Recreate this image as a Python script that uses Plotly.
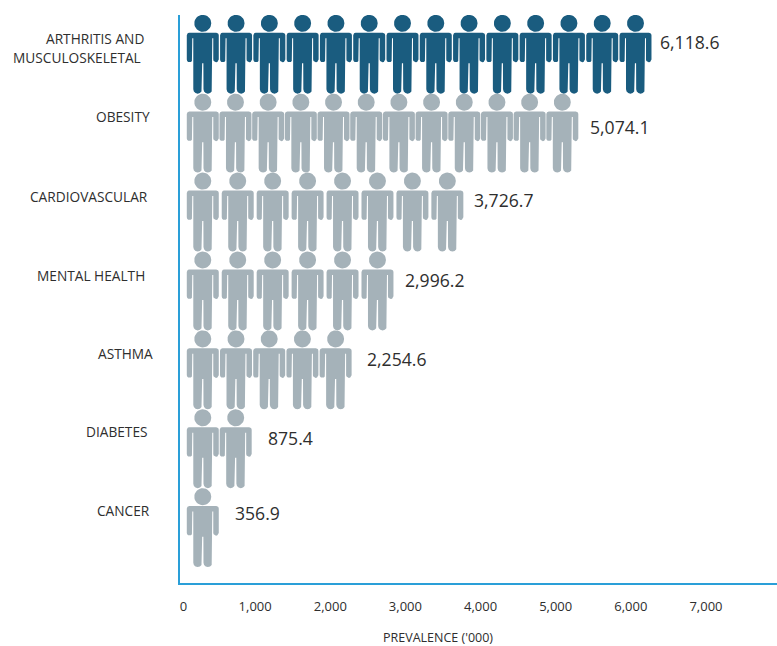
import math
import plotly.graph_objects as go

categories = ["ARTHRITIS AND MUSCULOSKELETAL", "OBESITY", "CARDIOVASCULAR",
              "MENTAL HEALTH", "ASTHMA", "DIABETES", "CANCER"]
values = [6118.6, 5074.1, 3726.7, 2996.2, 2254.6, 875.4, 356.9]
value_labels = ["6,118.6", "5,074.1", "3,726.7", "2,996.2", "2,254.6", "875.4", "356.9"]
icon_counts = [14, 12, 8, 6, 5, 2, 1]
icon_pitch = [443, 435, 465, 465, 442, 438, 438]   # x-axis units per icon
tick_vals = [0, 1000, 2000, 3000, 4000, 5000, 6000, 7000]
tick_text = ["\u00a0\u00a00", "1,000", "2,000", "3,000", "4,000", "5,000", "6,000", "7,000"]

# Layout
W, H = 777, 646
L, R, T, B = 179.5, 0, 15, 63
PX_PER_K = 75.2
ROW_PX = 78.9
HEAD0 = 23.3 - T
UX = 1000 / PX_PER_K           # x units per pixel
UY = 1 / ROW_PX                # y units per pixel
FIRST_CENTER = (202.3 - L) * UX
x_range = [0, (W - L - R) * UX]
y_range = [(H - B - T - HEAD0) * UY, -HEAD0 * UY]

DARK, GREY, BLUE, TEXT = "#1a5c7f", "#a5b2b9", "#2a9fd8", "#2e2e2e"
FONT = "Open Sans"


def arc(cx, cy, r, a0, a1, n=6):
    return [(cx + r * math.cos(math.radians(a0 + (a1 - a0) * i / n)),
             cy + r * math.sin(math.radians(a0 + (a1 - a0) * i / n))) for i in range(n + 1)]


def person_outline():
    """Person outline in pixels, relative to the head centre (y down)."""
    top, arm_b, crotch, foot = 9.4, 39.0, 40.0, 70.4
    o, s, t, g = 16.0, 10.5, 9.5, 0.6
    r = 2.75
    leg_r = 4.4
    pts = []
    pts += arc(-o + 2.5, top + 2.5, 2.5, 180, 270)
    pts += arc(o - 2.5, top + 2.5, 2.5, 270, 360)
    pts += arc(o - r, arm_b - r, r, 0, 180)
    pts += [(s, top + 5.5), (t, top + 5.5)]
    pts += arc(t - leg_r, foot - leg_r, leg_r, 0, 180)
    pts += [(g, crotch), (-g, crotch)]
    pts += arc(-t + leg_r, foot - leg_r, leg_r, 0, 180)
    pts += [(-t, top + 5.5), (-s, top + 5.5)]
    pts += arc(-o + r, arm_b - r, r, 0, 180)
    pts.append(pts[0])
    return pts


BODY = person_outline()
HEAD = arc(0, 0, 8.5, 0, 360, 32)

fig = go.Figure()
for row, (cat, n, pitch) in enumerate(zip(categories, icon_counts, icon_pitch)):
    xs, ys = [], []
    for i in range(n):
        cx = FIRST_CENTER + i * pitch
        for poly in (BODY, HEAD):
            xs += [cx + px * UX for px, _ in poly] + [None]
            ys += [row + py * UY for _, py in poly] + [None]
    fig.add_trace(go.Scatter(x=xs, y=ys, mode="lines", fill="toself", name=cat,
                             fillcolor=DARK if row == 0 else GREY,
                             line=dict(width=0), hoverinfo="name", showlegend=False))

annotations = []


def label(px, py, text, size, anchor="right"):
    annotations.append(dict(xref="paper", yref="paper",
                            x=(px - L) / (W - L - R), y=1 - (py - T) / (H - T - B),
                            text=text, showarrow=False, xanchor=anchor, yanchor="middle",
                            align=anchor, borderpad=0,
                            font=dict(family=FONT, size=size, color=TEXT)))


cat_right_px = [None, 150, 148, 145, 153, 148, 150]
cat_mid_px = [None, 117, 196, 275, 353, 431, 510]
label(144, 38, "ARTHRITIS AND", 13.7)
label(141, 57, "MUSCULOSKELETAL", 13.7)
for cat, px, py in zip(categories[1:], cat_right_px[1:], cat_mid_px[1:]):
    label(px, py, cat, 13.7)

val_left_px = [659, 589, 473, 404, 366, 267, 234]
val_mid_px = [42, 127, 200, 280, 359, 438, 513]
for txt, px, py in zip(value_labels, val_left_px, val_mid_px):
    label(px, py, txt, 17.6, "left")

label(438, 637, "PREVALENCE ('000)", 12.5, "center")

fig.update_layout(
    width=W, height=H, autosize=False,
    margin=dict(l=L, r=R, t=T, b=B),
    paper_bgcolor="white", plot_bgcolor="white",
    annotations=annotations, showlegend=False,
    xaxis=dict(range=x_range, tickmode="array", tickvals=tick_vals, ticktext=tick_text,
               showgrid=False, zeroline=False, showline=True, linecolor=BLUE, linewidth=2,
               ticks="", ticklabelstandoff=10,
               tickfont=dict(family=FONT, size=13, color=TEXT)),
    yaxis=dict(range=y_range, showgrid=False, zeroline=False, showline=True,
               linecolor=BLUE, linewidth=2, ticks="", showticklabels=False),
)
fig.write_html("out.html", config=dict(displayModeBar=False),
               post_script="document.body.style.margin='0';document.body.style.overflow='hidden';")
